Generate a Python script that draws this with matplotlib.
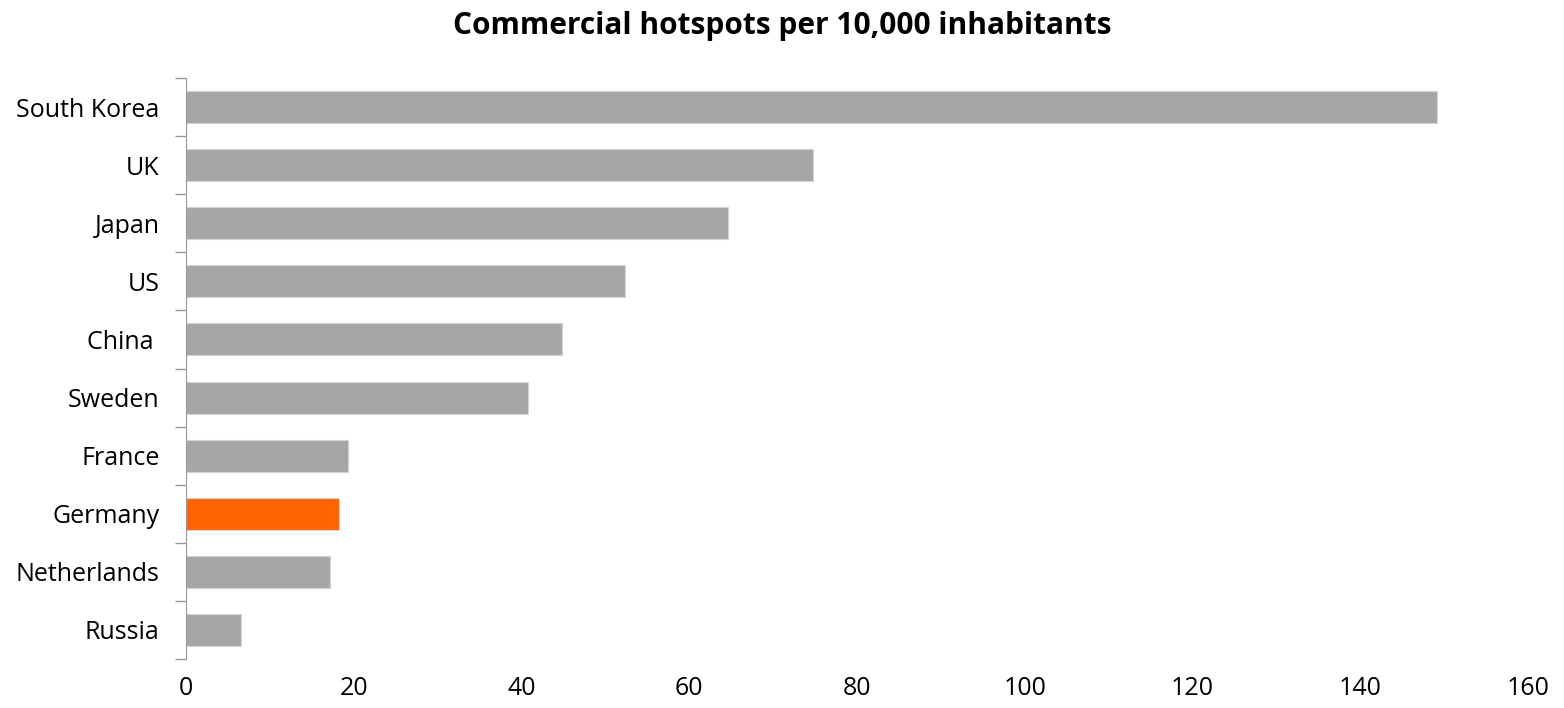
import matplotlib.pyplot as plt
import numpy as np

countries = ['South Korea', 'UK', 'Japan', 'US', 'China ', 'Sweden', 'France',
             'Germany', 'Netherlands', 'Russia']
hotspots = [149.2, 74.8, 64.6, 52.3, 44.8, 40.8, 19.3, 18.2, 17.2, 6.6]
highlight = 'Germany'
xticks = [0, 20, 40, 60, 80, 100, 120, 140, 160]

plt.rcParams['font.family'] = ['Open Sans', 'DejaVu Sans']

fig = plt.figure(figsize=(15.64, 7.08), dpi=100)
ax = fig.add_axes([0.1189, 0.0692, 0.858, 0.8206])

y = np.arange(len(countries))
colors = ['#FF6200' if c == highlight else '#A6A6A6' for c in countries]
ax.barh(y, hotspots, height=0.55, color=colors, edgecolor='#D4D4D4', linewidth=0.8)

ax.set_xlim(0, 160)
ax.set_ylim(len(countries) - 0.5, -0.5)
ax.set_yticks(y)
ax.set_yticklabels(countries, fontsize=18)
ax.set_yticks(np.arange(len(countries) + 1) - 0.5, minor=True)
ax.tick_params(axis='y', which='major', length=0, pad=19)
ax.tick_params(axis='y', which='minor', length=8, color='#999999', width=1)
ax.set_xticks(xticks)
ax.set_xticklabels([str(t) for t in xticks], fontsize=18)
ax.tick_params(axis='x', length=0, pad=12)

for side in ['top', 'right', 'bottom']:
    ax.spines[side].set_visible(False)
ax.spines['left'].set_color('#999999')

fig.suptitle('Commercial hotspots per 10,000 inhabitants', x=0.5, y=0.985,
             fontsize=21.5, fontweight='bold')

fig.savefig('out.png', dpi=100)
